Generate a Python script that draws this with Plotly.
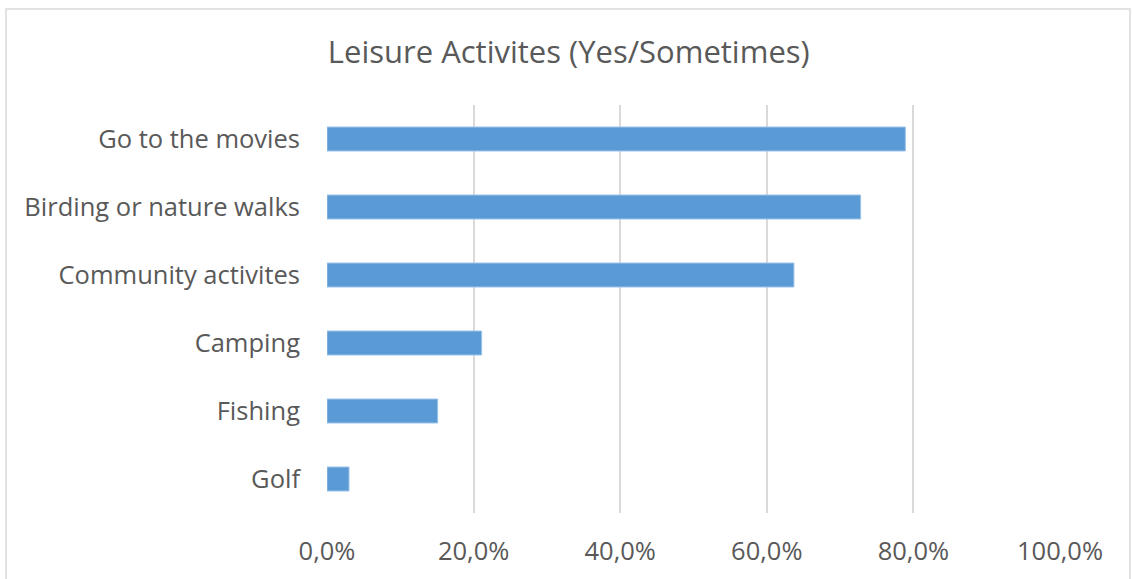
import plotly.graph_objects as go

# Share of respondents answering "Yes" or "Sometimes", listed top to bottom
activities = [
    "Go to the movies",
    "Birding or nature walks",
    "Community activites",
    "Camping",
    "Fishing",
    "Golf",
]
share = [0.789, 0.728, 0.637, 0.211, 0.151, 0.030]

x_ticks = [0.0, 0.2, 0.4, 0.6, 0.8, 1.0]

W, H = 1133, 579
L, R, T, B = 327, 73, 105, 66
plot_w = W - L - R
plot_h = H - T - B

FONT = "Open Sans"
TEXT = "#595959"
GRID = "#d9d9d9"
LABEL_SIZE = 25.5

fig = go.Figure(
    go.Bar(
        x=share,
        y=activities,
        orientation="h",
        marker=dict(color="#5B9BD5", line=dict(color="#9DC3E6", width=1)),
        hoverinfo="x+y",
    )
)


def px_x(p):
    return (p - L) / plot_w


def px_y(p):
    return (H - B - p) / plot_h


# Light frame around the whole chart
fig.add_shape(
    type="rect",
    xref="paper",
    yref="paper",
    x0=px_x(6),
    x1=px_x(1130),
    y0=px_y(590),
    y1=px_y(9),
    line=dict(color=GRID, width=1.5),
    fillcolor="rgba(0,0,0,0)",
    layer="below",
)

fig.update_layout(
    width=W,
    height=H,
    margin=dict(l=L, r=R, t=T, b=B),
    paper_bgcolor="white",
    plot_bgcolor="white",
    separators=",.",
    bargap=0.647,
    showlegend=False,
    font=dict(family=FONT, color=TEXT, size=LABEL_SIZE),
    title=dict(
        text="Leisure Activites (Yes/Sometimes)",
        x=0.502,
        xanchor="center",
        y=1 - 52 / H,
        yanchor="middle",
        font=dict(family=FONT, size=31, color=TEXT),
    ),
    xaxis=dict(
        range=[0, 1],
        tickvals=x_ticks,
        tickformat=".1%",
        showgrid=True,
        gridcolor=GRID,
        gridwidth=1.5,
        zeroline=False,
        showline=False,
        ticks="",
        ticklabelstandoff=20,
        tickfont=dict(family=FONT, size=LABEL_SIZE, color=TEXT),
        fixedrange=True,
    ),
    yaxis=dict(
        autorange="reversed",
        showgrid=False,
        zeroline=False,
        showline=False,
        ticks="",
        ticklabelstandoff=26,
        tickfont=dict(family=FONT, size=LABEL_SIZE, color=TEXT),
        fixedrange=True,
    ),
)

fig.write_html("out.html")
